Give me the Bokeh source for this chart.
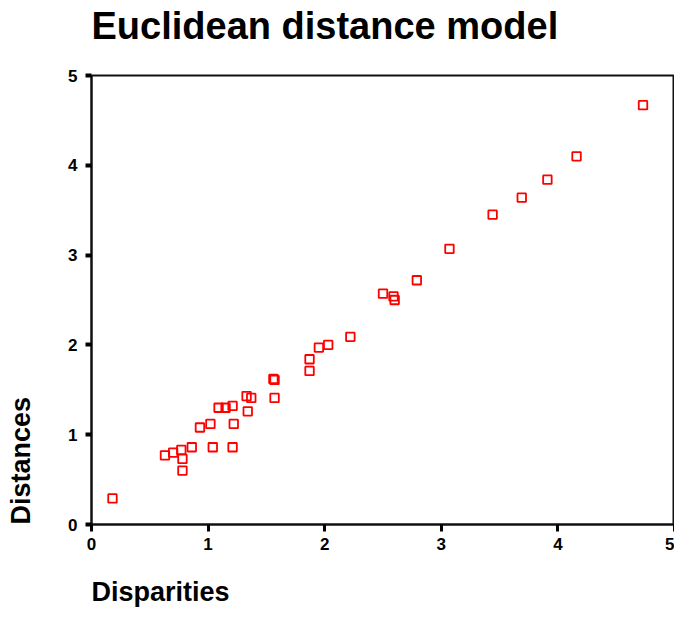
from bokeh.plotting import figure
from bokeh.models import Range1d, Title, FixedTicker
from bokeh.embed import file_html
from bokeh.resources import INLINE

disparities = [0.18, 0.63, 0.70, 0.77, 0.78, 0.78, 0.86, 0.93, 1.02, 1.04,
               1.09, 1.15, 1.21, 1.22, 1.21, 1.33, 1.34, 1.37, 1.56, 1.57,
               1.57, 1.87, 1.87, 1.95, 2.03, 2.22, 2.50, 2.59, 2.60, 2.79,
               3.07, 3.44, 3.69, 3.91, 4.16, 4.73]
distances = [0.29, 0.77, 0.80, 0.83, 0.73, 0.60, 0.86, 1.08, 1.12, 0.86,
             1.30, 1.30, 1.32, 1.12, 0.86, 1.43, 1.26, 1.41, 1.62, 1.61,
             1.41, 1.84, 1.71, 1.97, 2.00, 2.09, 2.57, 2.54, 2.50, 2.72,
             3.07, 3.45, 3.64, 3.84, 4.10, 4.67]
ticks = [0, 1, 2, 3, 4, 5]
title_text = "Euclidean distance model"
x_label = "Disparities"
y_label = "Distances"

FONT = "Liberation Sans"


def spacer(standoff):
    return Title(text=" ", text_font_size="1px", standoff=standoff)


p = figure(width=674, height=612, output_backend="svg", toolbar_location=None,
           title=None,
           x_range=Range1d(0, 5), y_range=Range1d(0, 5),
           min_border_left=91, min_border_right=0, min_border_top=75,
           min_border_bottom=88)

p.grid.visible = False
p.outline_line_color = "#111111"
p.outline_line_width = 2
p.background_fill_color = "white"
p.border_fill_color = "white"

for ax in (p.xaxis[0], p.yaxis[0]):
    ax.ticker = FixedTicker(ticks=ticks)
    ax.axis_line_color = "#111111"
    ax.axis_line_width = 2
    ax.major_tick_line_color = "black"
    ax.major_tick_in = 0
    ax.minor_tick_line_color = None
    ax.major_label_text_font = FONT
    ax.major_label_text_font_size = "17px"
    ax.major_label_text_font_style = "bold"
    ax.major_label_text_color = "black"

p.xaxis.major_tick_out = 7
p.xaxis.major_tick_line_width = 3
p.xaxis.major_label_standoff = 6
p.yaxis.major_tick_out = 6
p.yaxis.major_tick_line_width = 4
p.yaxis.major_label_standoff = 8

p.scatter(disparities, distances, marker="square", size=8.5,
          fill_color=None, line_color="#ff0000", line_width=1.8)

# above: spacer then main title
p.add_layout(spacer(26), "above")
p.add_layout(Title(text=title_text, align="left", text_font=FONT,
                   text_font_size="38px", text_font_style="bold",
                   text_color="black", standoff=0,
                   vertical_align="bottom"), "above")

# below: (axis) spacer then x label
p.add_layout(spacer(21), "below")
p.add_layout(Title(text=x_label, align="left", text_font=FONT,
                   text_font_size="27px", text_font_style="bold",
                   text_color="black", standoff=0,
                   vertical_align="top"), "below")

# left: (axis) spacer then y label
p.add_layout(spacer(27), "left")
p.add_layout(Title(text=y_label, align="left", text_font=FONT,
                   text_font_size="27px", text_font_style="bold",
                   text_color="black", standoff=0, offset=0,
                   vertical_align="bottom"), "left")

open("out.html", "w").write(file_html(p, INLINE))
